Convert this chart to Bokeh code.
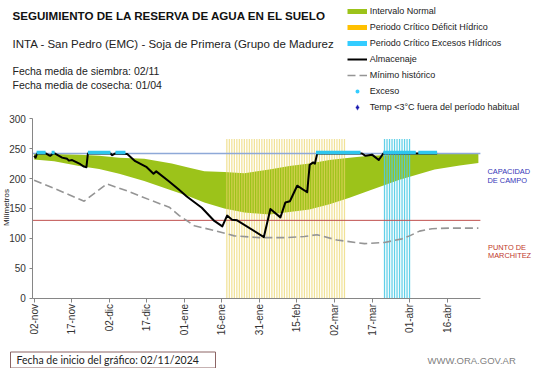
import math
from bokeh.plotting import figure
from bokeh.models import Label, Legend, LegendItem, FixedTicker
from bokeh.embed import file_html
from bokeh.resources import INLINE

# ---------------- data (days counted from 02-nov-2024) ----------------
tick_days = [0, 15, 30, 45, 60, 75, 90, 105, 120, 135, 150, 165]
tick_labels = ["02-nov", "17-nov", "02-dic", "17-dic", "01-ene", "16-ene",
               "31-ene", "15-feb", "02-mar", "17-mar", "01-abr", "16-abr"]
y_ticks = [0, 50, 100, 150, 200, 250, 300]

normal_dias = [0, 8, 18, 26, 34, 44, 55, 62, 68, 76, 84, 94, 102, 110, 118, 126, 134, 146, 160, 170, 177.5]
normal_inf = [232, 229, 221, 216, 208, 196, 180, 170, 160, 150, 143, 140, 144, 148, 157, 168, 180, 198, 215, 222, 226]
normal_sup = [242, 241, 240, 238, 235, 233, 225, 218, 212, 211, 209, 215, 221, 225, 231, 235, 238, 240, 242, 242, 242]

minimo_dias = [0, 10, 20, 29, 38, 47, 54, 58, 64, 73, 80, 90, 100, 108, 113, 121, 132, 140, 147, 150, 154, 159, 166, 177.5]
minimo_vals = [197, 180, 162, 191, 178, 163, 152, 138, 121, 112, 104, 101, 101, 103, 106, 97, 91, 93, 99, 104, 112, 116, 117, 117]

alm_dias = [0, 0.6, 1.2, 4.6, 5.9, 6.5, 7.6, 8.2, 11.2, 13.2, 13.9, 15.2, 18.5, 19.9, 20.9, 21.5,
            30.5, 31.2, 32.5, 37.2, 40.4, 45.0, 47.7, 48.8, 53.7, 57.7, 61, 67, 72, 75.2,
            77.1, 79.1, 81.1, 91.8, 94.4, 98.4, 100.4, 102.2, 105.1, 109.1, 110.1, 111.5,
            112.2, 113.1, 131.0, 132.4, 135.0, 137.7, 139.5, 161]
alm_vals = [238, 235, 242, 242, 239, 238, 242, 242, 235, 233, 230, 231, 224, 220, 219, 242,
            242, 239, 242, 241, 229, 219, 208, 212, 196, 182, 170, 151, 129, 120,
            138, 131, 130, 102, 149, 135, 160, 162, 188, 177, 223, 227,
            225, 242, 242, 238, 240, 231, 242, 242]

exceso_ini = [1.0, 7.0, 21.5, 32.5, 112.6, 139.5, 153.5]
exceso_fin = [4.6, 8.2, 30.5, 36.5, 130.4, 152.5, 161.0]
exceso_valor = 243.5

deficit_dias = list(range(77, 125))      # Periodo critico deficit hidrico
excesos_dias = list(range(140, 151))     # Periodo critico excesos hidricos
franja_tope = 266

capacidad_campo = 242
punto_marchitez = 130

# ---------------- geometry ----------------
W, H = 541, 368
PX0, PXD = 33.6, 2.503     # x pixel of day 0, pixels per day
PY0, PYU = 297.5, 0.5973   # y pixel of 0 mm, pixels per mm
def dx(px):
    return (px - PX0) / PXD
def dy(py):
    return (PY0 - py) / PYU

X_START, X_END = -0.5, 178.3

p = figure(width=W, height=H, x_range=(dx(0), dx(W)), y_range=(dy(H), dy(0)),
           output_backend="svg", toolbar_location=None,
           min_border=0, min_border_left=0, min_border_right=0,
           min_border_top=0, min_border_bottom=0)
p.title.visible = False
p.grid.visible = False
p.outline_line_color = None
p.background_fill_color = "white"
p.border_fill_color = "white"

GREEN = "#9CC31A"

p.varea(x=normal_dias, y1=normal_inf, y2=normal_sup, fill_color=GREEN)

p.vbar(x=deficit_dias, width=0.5, bottom=0, top=franja_tope,
       fill_color="#EAD465", fill_alpha=0.68, line_color=None)
p.vbar(x=excesos_dias, width=0.5, bottom=0, top=franja_tope,
       fill_color="#4FCBE6", fill_alpha=0.9, line_color=None)

p.line(x=[X_START, X_END], y=[capacidad_campo, capacidad_campo], line_color="#8EA9D8", line_width=1.5)
p.line(x=[X_START, X_END], y=[punto_marchitez, punto_marchitez], line_color="#C0504D", line_width=1)

r_min = p.line(minimo_dias, minimo_vals, line_color="#959595", line_width=1.6, line_dash="8 4")
r_alm = p.line(alm_dias, alm_vals, line_color="black", line_width=2, line_join="round")
p.segment(x0=exceso_ini, y0=exceso_valor, x1=exceso_fin, y1=exceso_valor,
          line_color="#2EC6EE", line_width=3.5)

# axes, drawn at fixed positions inside the full-canvas frame
p.xaxis.fixed_location = 0
p.yaxis.fixed_location = X_START
p.xaxis.bounds = (X_START, X_END)
p.yaxis.bounds = (0, 300)
p.xaxis.ticker = FixedTicker(ticks=tick_days)
p.xaxis.major_label_overrides = dict(zip(tick_days, tick_labels))
p.xaxis.major_label_orientation = math.pi / 2
p.yaxis.ticker = FixedTicker(ticks=y_ticks)
for ax in (p.xaxis, p.yaxis):
    ax.minor_tick_line_color = None
    ax.major_tick_in = 0
    ax.axis_line_color = "#868686"
    ax.major_tick_line_color = "#868686"
    ax.major_label_text_font = "Liberation Sans"
    ax.major_label_text_font_size = "10px"
    ax.major_label_text_color = "#333333"
p.xaxis.major_tick_out = 4
p.xaxis.major_label_standoff = 2
p.yaxis.major_tick_out = 3
p.yaxis.major_label_standoff = 4

# legend swatches (single NaN point so nothing is drawn in the plot)
NAN = [math.nan]
r_lg_green = p.line(NAN, NAN, line_color=GREEN, line_width=5)
r_lg_yellow = p.line(NAN, NAN, line_color="#FFC000", line_width=5)
r_lg_cyan = p.line(NAN, NAN, line_color="#33CCFF", line_width=5)
r_lg_exc = p.scatter(NAN, NAN, marker="circle", size=4, fill_color="#33CCFF",
                     line_color="white", line_width=2.4)
r_lg_temp = p.scatter(NAN, NAN, marker="diamond", size=7, fill_color="#1A1AB0",
                      line_color="white", line_width=0.6)

items = [
    LegendItem(label="Intervalo Normal", renderers=[r_lg_green]),
    LegendItem(label="Periodo Crítico Déficit Hídrico", renderers=[r_lg_yellow]),
    LegendItem(label="Periodo Crítico Excesos Hídricos", renderers=[r_lg_cyan]),
    LegendItem(label="Almacenaje", renderers=[r_alm]),
    LegendItem(label="Mínimo histórico", renderers=[r_min]),
    LegendItem(label="Exceso", renderers=[r_lg_exc]),
    LegendItem(label="Temp <3°C fuera del período habitual", renderers=[r_lg_temp]),
]
row_h = 16
leg_top = 3
leg_bottom = leg_top + row_h * len(items)
legend = Legend(items=items, location=(346.7, H - leg_bottom),
                glyph_width=20, glyph_height=row_h, label_height=row_h, spacing=0,
                padding=0, margin=0, border_line_color=None, background_fill_alpha=0,
                label_text_font="Liberation Sans", label_text_font_size="9px",
                label_text_color="#222222", label_standoff=3)
p.add_layout(legend)

def txt(x, y, s, size, color="#111111", style="normal", font="Liberation Sans", **kw):
    lab = Label(x=dx(x), y=dy(y), text=s, text_font=font, text_font_size=size,
                text_color=color, text_font_style=style, text_baseline="middle", **kw)
    p.add_layout(lab)
    return lab

txt(12, 15, "SEGUIMIENTO DE LA RESERVA DE AGUA  EN EL SUELO", "11.6px", style="bold")
txt(12, 43, "INTA - San Pedro (EMC) - Soja de Primera (Grupo de Madurez", "11.5px", color="#222222")
txt(12, 70, "Fecha media de siembra: 02/11", "10.5px", color="#222222")
txt(12, 84, "Fecha media de cosecha: 01/04", "10.5px", color="#222222")

txt(487, 170.7, "CAPACIDAD", "7.4px", color="#3535B8")
txt(487, 179.5, "DE  CAMPO", "7.4px", color="#3535B8")
txt(487.5, 246.7, "PUNTO  DE", "7.4px", color="#C0392B")
txt(487.5, 255.2, "MARCHITEZ", "7.4px", color="#C0392B")

txt(6, 207, "Milímetros", "8px", color="#222222", angle=math.pi / 2, text_align="center")

txt(10, 359.5, "Fecha de inicio del gráfico:  02/11/2024", "10.5px", color="#222222", font="Lato",
    border_line_color="#8C6464", border_line_width=1, background_fill_color="white",
    padding=dict(left=6, right=14, top=2, bottom=2))
txt(427, 360, "WWW.ORA.GOV.AR", "9.5px", color="#7F7F7F")

open("out.html", "w").write(file_html(p, INLINE))
